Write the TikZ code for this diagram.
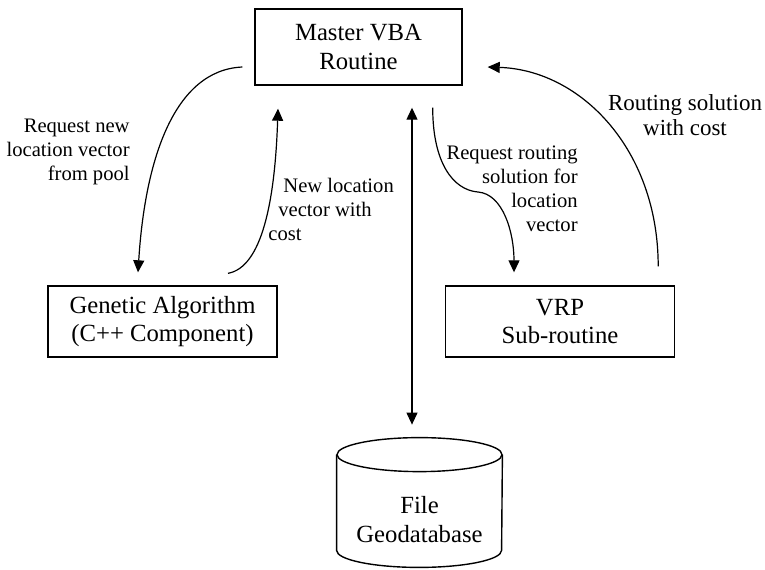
\documentclass[tikz,border=0pt]{standalone}
\usepackage{fontspec}
\setmainfont{Liberation Serif}
\usetikzlibrary{arrows.meta}

\begin{document}
\begin{tikzpicture}[x=0.5pt, y=-0.5pt,
    >={Triangle[length=6pt, width=5.5pt]},
    box/.style={draw, line width=0.7pt, align=center, inner sep=0pt,
      minimum width=114.5pt, minimum height=35.5pt,
      font=\fontsize{12.35}{14.3}\selectfont},
    flow/.style={->, line width=0.6pt},
    note/.style={inner sep=0pt, font=\fontsize{10.3}{12}\selectfont}]
    \useasboundingbox (0,0) rectangle (765,569);

    % Program parts
    \node[box, minimum width=103.5pt, minimum height=38pt] (master) at (358.5,47) {Master VBA\\Routine};
    \node[box] (ga) at (162.5,321.5) {Genetic Algorithm\\(C++ Component)};
    \node[box] (vrp) at (560,321.5) {VRP\\Sub-routine};

    % Geodatabase drum: body node, top ellipse, sides and bottom arc
    \node[align=center, inner sep=0pt, minimum width=82.5pt, minimum height=47.5pt,
      font=\fontsize{12.35}{14.3}\selectfont] (db) at (419.5,519.5) {File\\Geodatabase};
    \draw[line width=0.7pt] ([yshift=8.5pt]db.north) ellipse [x radius=41.25pt, y radius=8.5pt];
    \draw[line width=0.7pt] ([yshift=8.5pt]db.north west) -- ([yshift=8.5pt]db.south west)
      arc[start angle=180, end angle=360, x radius=41.25pt, y radius=8.5pt] -- ([yshift=8.5pt]db.north east);
    \coordinate (dbtop) at ([xshift=-3.75pt, yshift=23.5pt]db.north);

    % Read/write to the geodatabase
    \draw[flow, <->, shorten <=11pt] (master.south -| dbtop) -- (dbtop);

    % GA loop
    \draw[flow] ([shift={(-12,20)}]master.west) .. controls +(-68,3) and +(7,-113) .. ([shift={(-24.5,-13)}]ga.north);
    \draw[flow] ([shift={(65.5,-12)}]ga.north) .. controls +(34,-6) and +(-3,92) .. ([shift={(-80.5,23)}]master.south);

    % VRP loop
    \draw[flow] ([shift={(-30,22)}]master.south east) .. controls +(0,55) and +(-25,-2) .. (478,192)
      .. controls +(25,2) and +(0,-40) .. ([shift={(-46,-13)}]vrp.north);
    \draw[flow] ([shift={(-17,-19)}]vrp.north east) .. controls +(0,-117) and +(93,3) .. ([shift={(25,20)}]master.east);

    % Labels on the loops
    \node[note, anchor=east, align=right] (reqpool) at (130,152) {Request new\\location vector\\from pool};
    \node[note, anchor=west, align=left] (newloc) at (268,209) {\hspace*{7.5pt}New location\\\hspace*{5pt}vector with\\cost};
    \node[note, anchor=east, align=right] (reqroute) at (578,189) {Request routing\\solution for\\location\\vector};
    \node[note, align=center, font=\fontsize{11.5}{12.5}\selectfont] (routsol) at (685,115) {Routing solution\\with cost};
\end{tikzpicture}
\end{document}
